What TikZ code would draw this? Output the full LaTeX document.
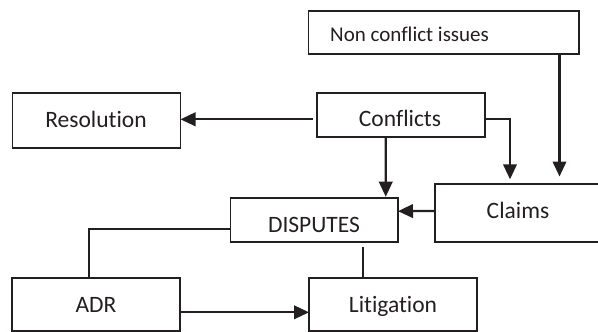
\documentclass[tikz,border=0pt]{standalone}
\usepackage{fontspec}
\setmainfont[Ligatures=NoCommon]{Carlito}
\usetikzlibrary{arrows.meta}
\definecolor{ink}{RGB}{35,31,32}
\tikzset{
  box/.style={draw=ink, line width=1.8pt, inner sep=0pt, outer sep=0pt, rectangle},
  txt/.style={text=ink, inner sep=0pt, text height=15.1pt, text depth=0pt, font=\fontsize{23.5}{28}\selectfont},
  smalltxt/.style={txt, text height=13.5pt, font=\fontsize{21}{25}\selectfont},
  arr/.style={draw=ink, line width=2.3pt, -{Triangle[length=15pt,width=13.5pt]}},
  link/.style={draw=ink, line width=1.5pt},
  thicklink/.style={draw=ink, line width=2.6pt}
}
\begin{document}
\begin{tikzpicture}[x=1pt,y=-1pt]
\useasboundingbox (0,0) rectangle (598,332);
\clip (0,0) rectangle (598,332);
% boxes
\node[box, minimum width=270.5pt, minimum height=43.3pt] (nci) at (443.75,32.35) {};
\node[box, minimum width=168pt, minimum height=55pt] (res) at (96.5,120.5) {};
\node[box, minimum width=168pt, minimum height=44pt] (conf) at (400.7,114.7) {};
\node[box, minimum width=175pt, minimum height=58pt] (claims) at (522.5,213) {};
\node[box, minimum width=167.5pt, minimum height=44.3pt] (disp) at (314.25,220.15) {};
\node[box, minimum width=168pt, minimum height=52.5pt] (adr) at (96,304.5) {};
\node[box, minimum width=167.7pt, minimum height=52.5pt] (lit) at (392.85,304.5) {};
% texts
\node[smalltxt, anchor=west] (nci-t) at (330,34.5) {Non conflict issues};
\node[txt] (res-t) at (96,119.8) {Resolution};
\node[txt] (conf-t) at (400,118.8) {Conflicts};
\node[txt] (claims-t) at (518,210.7) {Claims};
\node[txt] (disp-t) at (314,224.5) {DISPUTES};
\node[txt] (adr-t) at (96,304.7) {ADR};
\node[txt] (lit-t) at (393,304.7) {Litigation};
% connectors
\coordinate (nci-out) at (559.5,54);
\coordinate (nci-tip) at (559.5,176.5);
\draw[arr] (nci-out) -- (nci-tip);
\draw[arr] ([xshift=-4pt,yshift=-4.6pt]conf.west) -- ([yshift=1.2pt]res.east);
\draw[arr] ([yshift=-4.6pt]conf.east) -| ([xshift=-12.5pt,yshift=4.7pt]claims.north);
\draw[arr] ([xshift=-15pt]conf.south) -- ([xshift=71.5pt,yshift=1.3pt]disp.north);
\draw[arr] ([yshift=2pt]claims.west) -- ([yshift=9pt]disp.east);
\draw[link] ([yshift=-9pt]disp.west) -| (adr.north -| 89,0);
\draw[thicklink] ([xshift=48.75pt,yshift=-5pt]disp.south) -- ([xshift=-29.85pt]lit.north);
\draw[arr] ([yshift=-7.8pt]adr.east) -- ([yshift=-7.8pt]lit.west);
\end{tikzpicture}
\end{document}
